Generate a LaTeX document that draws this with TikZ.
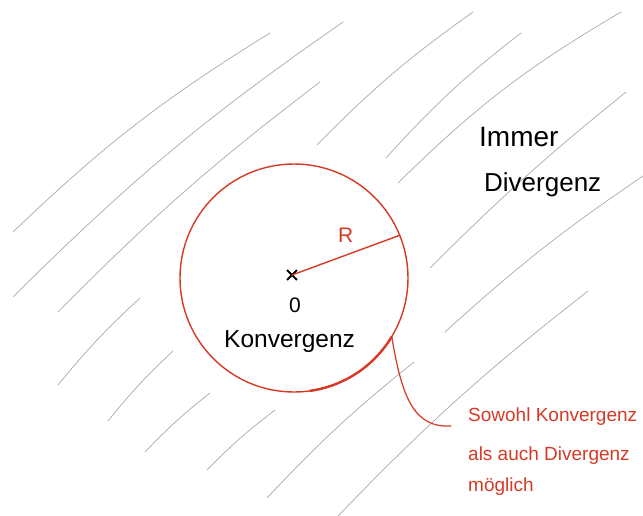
\documentclass[tikz,border=0pt]{standalone}
\usepackage{fontspec}
\setmainfont{Liberation Sans}
\usetikzlibrary{shapes.misc}
\definecolor{sketchred}{RGB}{214,58,38}
\definecolor{hatchgray}{RGB}{170,170,170}
\begin{document}
\begin{tikzpicture}[x=1pt,y=-1pt,
  hatch/.style={draw=hatchgray, line width=0.7pt, line cap=round},
  redline/.style={draw=sketchred, line width=1.4pt, line cap=round},
  handtext/.style={inner sep=0pt, anchor=base west},
  redtext/.style={handtext, text=sketchred, font=\fontsize{19}{22}\selectfont}
]
\useasboundingbox (0,0) rectangle (643,516);
\fill[white] (0,0) rectangle (643,516);
% hatching of the divergence region
\draw[hatch] (13,232) to[bend left=6] (270,33);
\draw[hatch] (13,297) to[bend left=5] (343,22);
\draw[hatch] (58,312) to[bend left=4] (320,82);
\draw[hatch] (317,145) to[bend left=5] (473,12);
\draw[hatch] (386,158) to[bend left=5] (521,33);
\draw[hatch] (398,183) to[bend left=7] (621,12);
\draw[hatch] (430,268) to[bend left=3] (626,92);
\draw[hatch] (445,332) to[bend left=4] (643,176);
\draw[hatch] (338,516) to[bend left=4] (588,291);
\draw[hatch] (267,498) to[bend left=4] (414,362);
\draw[hatch] (58,385) to[bend left=4] (140,298);
\draw[hatch] (108,421) to[bend left=4] (173,351);
\draw[hatch] (145,452) to[bend left=4] (210,393);
\draw[hatch] (207,470) to[bend left=4] (275,410);
% disk of convergence
\node[circle, draw=sketchred, line width=1.4pt, minimum size=228pt, inner sep=0pt, outer sep=0pt] (disk) at (294,278) {};
\draw[draw=sketchred, line width=2.4pt] (disk.-82) arc[start angle=-82, end angle=-31, radius=114pt];
\node[cross out, draw=black, line width=1.8pt, minimum size=8pt, inner sep=0pt] (o) at (292,275) {};
\draw[redline] (o.center) -- (disk.22);
\node[handtext, text=sketchred, font=\fontsize{21}{24}\selectfont] (rlabel) at (338,242) {R};
\node[inner sep=0pt, anchor=base, font=\fontsize{21}{24}\selectfont] (zero) at (295,312) {0};
\node[handtext, font=\fontsize{24.5}{28}\selectfont] (konv) at (224,347) {Konvergenz};
% outside labels
\node[handtext, font=\fontsize{28}{30}\selectfont] (immer) at (479,147) {Immer};
\node[handtext, font=\fontsize{26}{30}\selectfont] (div) at (484,192) {Divergenz};
% boundary annotation
\node[redtext] (red1) at (468,421) {Sowohl Konvergenz};
\node[redtext] (red2) at (468,460) {als auch Divergenz};
\node[redtext] (red3) at (468,491) {möglich};
\coordinate (lead) at (451,426);
\draw[redline, line width=1.2pt] (disk.-31) .. controls (402,398) and (414,428) .. (lead);
\end{tikzpicture}
\end{document}
